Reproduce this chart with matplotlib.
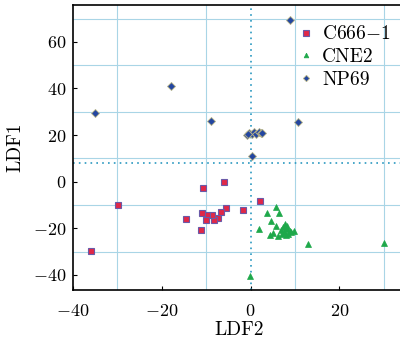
import numpy as np
import matplotlib
matplotlib.use('Agg')
import matplotlib.pyplot as plt
from matplotlib.ticker import MultipleLocator

plt.rcParams['font.family'] = 'serif'
plt.rcParams['font.serif'] = ['cmr10']
plt.rcParams['mathtext.fontset'] = 'cm'
plt.rcParams['axes.formatter.use_mathtext'] = True

# C666-1 (red squares)
c666_x = [-29.9, -36.0, -10.7, -6.0, 2.1, -1.7, -5.5, -6.7, -7.3, -8.2,
          -8.7, -9.8, -10.0, -11.0, -14.6, -11.1]
c666_y = [-10.0, -29.7, -2.8, 0.0, -8.2, -12.1, -11.3, -12.9, -15.5, -16.6,
          -14.4, -14.3, -16.3, -13.6, -15.9, -20.6]

# CNE2 (green triangles)
cne2_x = [-0.1, 30.1, 13.0, 5.8, 3.7, 6.5, 4.7, 5.7, 2.0, 5.0, 4.4, 9.9, 9.1,
          7.3, 7.8, 8.2, 7.5, 8.5, 7.9, 8.8, 7.0, 8.3, 6.8, 6.1]
cne2_y = [-40.5, -26.3, -26.9, -10.7, -13.3, -13.3, -16.7, -18.9, -20.4, -21.9,
          -22.9, -21.2, -21.7, -19.5, -18.0, -20.5, -21.5, -22.5, -23.0, -21.0,
          -22.3, -19.2, -20.7, -23.4]

# NP69 (blue diamonds)
np69_x = [8.9, -35.1, -18.0, -8.8, 10.7, 0.4,
          -0.8, -0.3, 0.3, 0.8, 1.3, 1.8, 2.3, 2.6, -0.5]
np69_y = [69.4, 29.4, 41.2, 26.0, 25.6, 11.2,
          20.0, 21.0, 20.3, 21.3, 20.6, 21.5, 20.8, 20.9, 20.5]

fig = plt.figure(figsize=(4, 3.41), dpi=100)
ax = fig.add_axes([73/400, 51/341, 332/400, 285/341])

ax.plot(c666_x, c666_y, 's', ms=5, mfc='#e02848', mec='#6a5aa8', mew=0.8,
        label=r'$\mathrm{C666{-}1}$', zorder=3)
ax.plot(cne2_x, cne2_y, '^', ms=4.5, mfc='#1ea84a', mec='#1ea84a', mew=0.5,
        label='CNE2', zorder=3)
ax.plot(np69_x, np69_y, 'D', ms=4.3, mfc='#2346a0', mec='#b8b488', mew=0.6,
        label='NP69', zorder=3)

ax.axvline(0, color='#2a98c0', ls=(0, (1, 2.5)), lw=1.2, zorder=2)
ax.axhline(8, color='#2a98c0', ls=(0, (1, 2.5)), lw=1.2, zorder=2)

ax.set_xlim(-40, 34.8)
ax.set_ylim(-46.5, 75.8)
ax.xaxis.set_major_locator(MultipleLocator(20))
ax.yaxis.set_major_locator(MultipleLocator(20))
ax.set_xticks(np.arange(-30, 34, 20), minor=True)
ax.set_yticks(np.arange(-30, 75, 20), minor=True)
ax.grid(which='minor', color='#a9d5e6', lw=0.8)
ax.tick_params(which='major', direction='in', top=False, right=False,
               labelsize=13, length=3)
ax.tick_params(axis='x', pad=9)
ax.tick_params(axis='y', pad=5)
ax.tick_params(which='minor', length=0)

for s in ax.spines.values():
    s.set_linewidth(1.2)

ax.set_xlabel('LDF2', fontsize=14, labelpad=2)
ax.set_ylabel('LDF1', fontsize=14, labelpad=6)

ax.legend(loc='upper right', fontsize=14, frameon=False, markerscale=0.75,
          handlelength=0.6, handletextpad=0.5, labelspacing=0.25,
          borderaxespad=0.5, bbox_to_anchor=(1.009, 0.99))

fig.savefig('out.png', dpi=100)
